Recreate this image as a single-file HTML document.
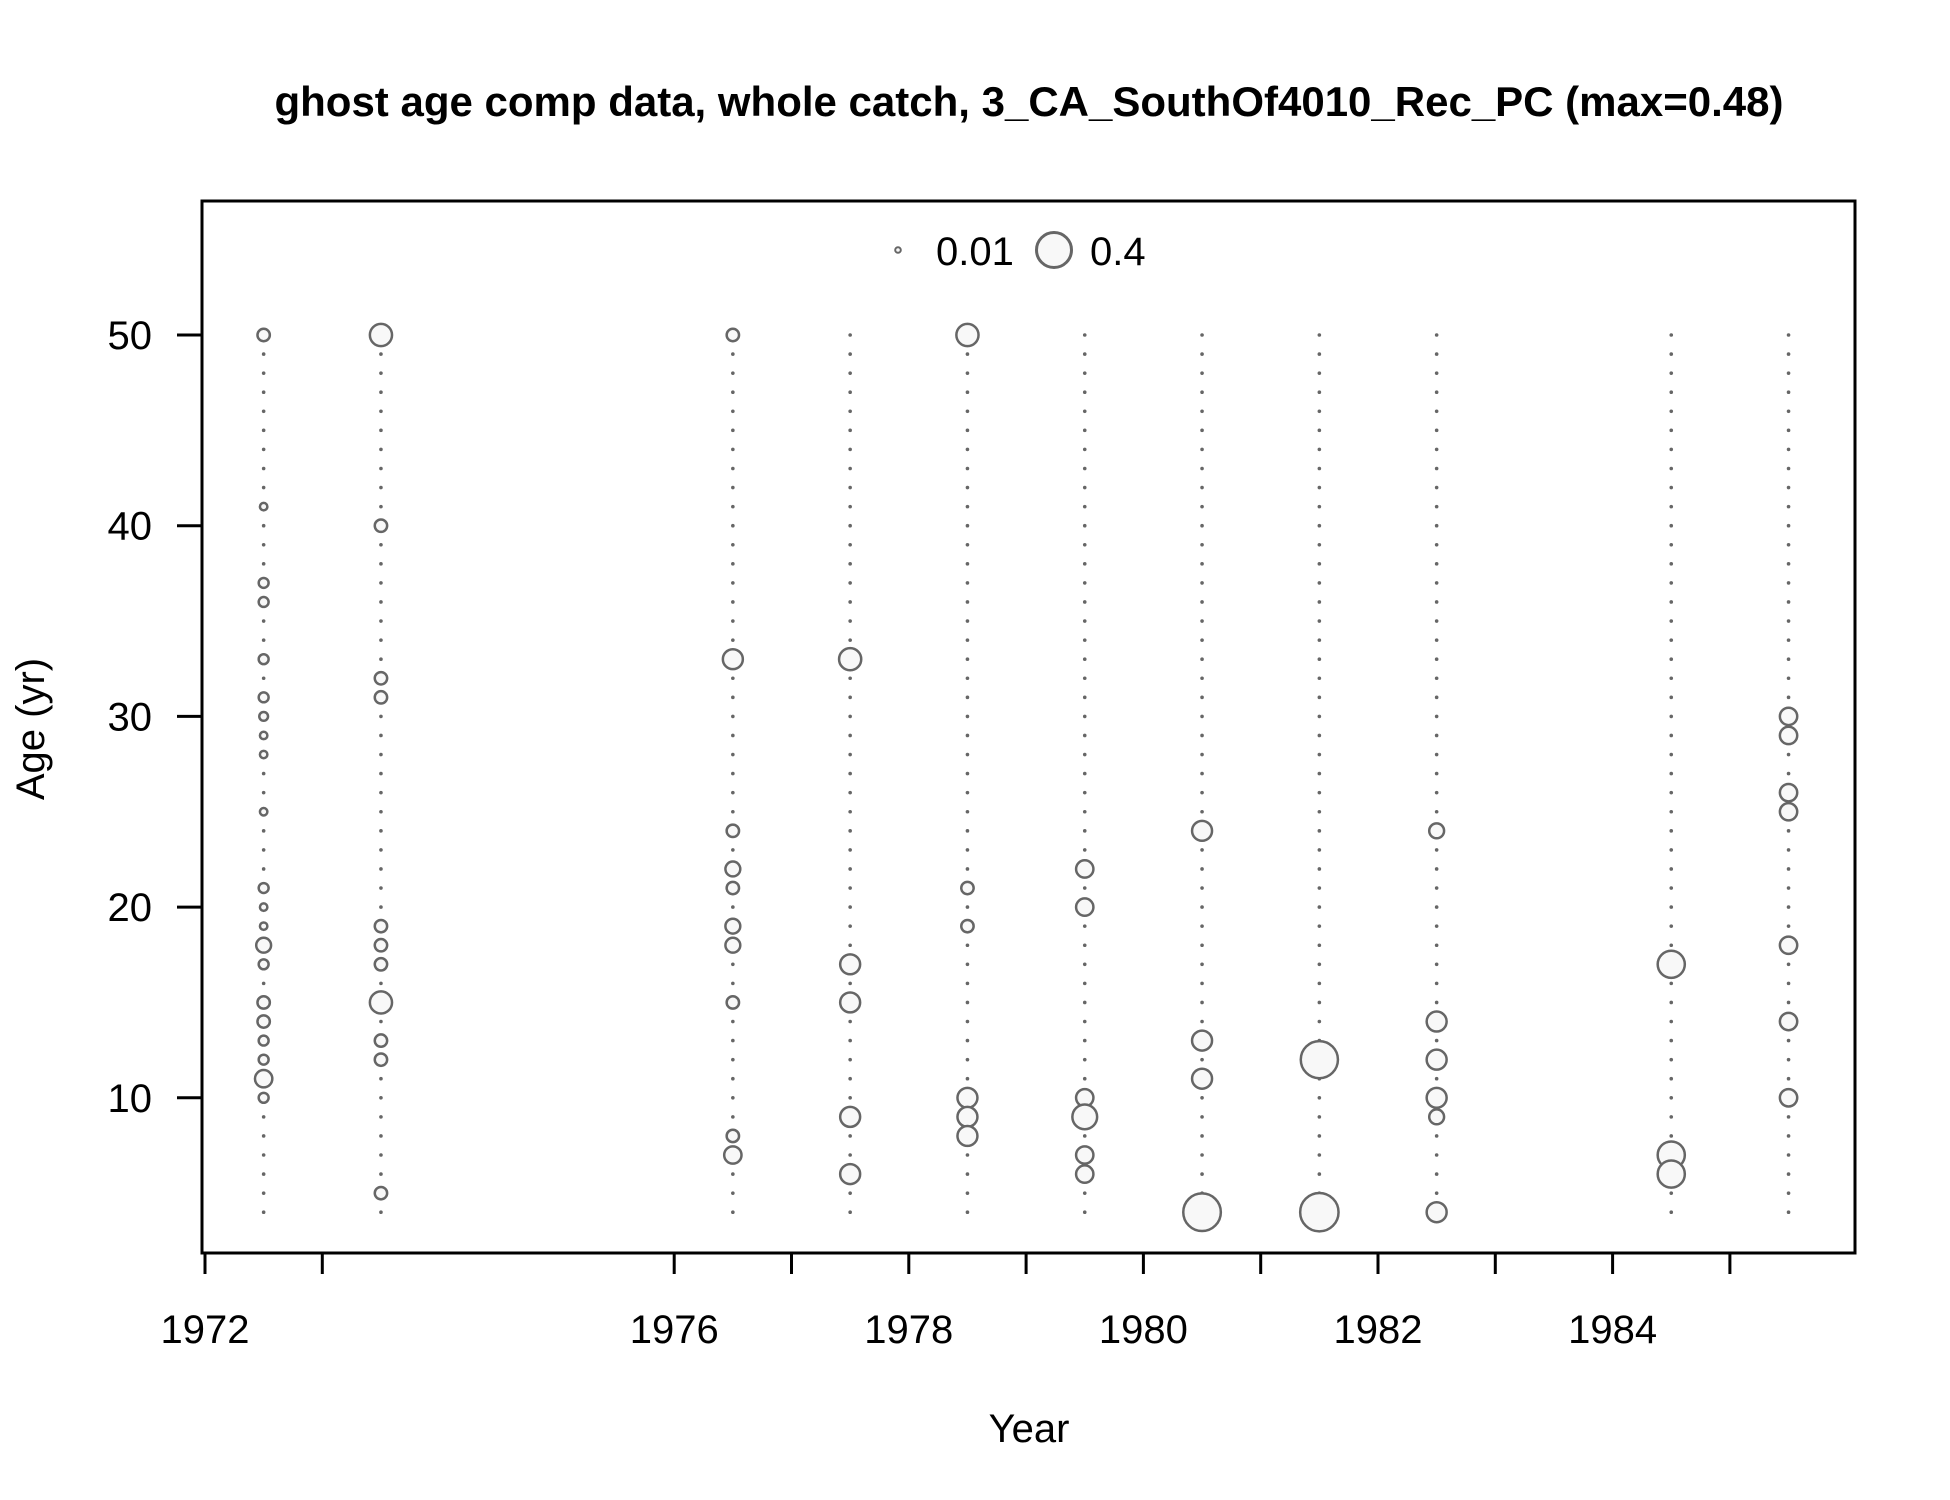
<!DOCTYPE html>
<html><head><meta charset="utf-8"><style>
body{margin:0;background:#fff}
svg{display:block;font-family:"Liberation Sans",Arial,sans-serif}
</style></head><body>
<svg id="chart" width="1950" height="1500" viewBox="0 0 1950 1500">
<text x="1029" y="116" font-size="42" font-weight="bold" text-anchor="middle">ghost age comp data, whole catch, 3_CA_SouthOf4010_Rec_PC (max=0.48)</text>
<rect x="202" y="201" width="1653" height="1052" fill="none" stroke="#000" stroke-width="3"/>
<g id="grid"></g>
<g id="marks"></g>
<g id="xaxis"></g>
<g id="yaxis"></g>
<text x="1029" y="1442" font-size="40" text-anchor="middle">Year</text>
<text transform="translate(44,729) rotate(-90)" font-size="40" text-anchor="middle">Age (yr)</text>
<g>
<circle cx="898" cy="250" r="2.8" fill="#f8f8f8" stroke="#666" stroke-width="2"/>
<text x="936" y="265" font-size="40">0.01</text>
<circle cx="1054" cy="250" r="17.5" fill="#f8f8f8" stroke="#666" stroke-width="3"/>
<text x="1090" y="265" font-size="40">0.4</text>
</g>
</svg>
<script>
const years = [1972.5,1973.5,1976.5,1977.5,1978.5,1979.5,1980.5,1981.5,1982.5,1984.5,1985.5];
const ages = [
 [50,41,37,36,33,31,30,29,28,25,21,20,19,18,17,15,14,13,12,11,10],
 [50,40,32,31,19,18,17,15,13,12,5],
 [50,33,24,22,21,19,18,15,8,7],
 [33,17,15,9,6],
 [50,21,19,10,9,8],
 [22,20,10,9,7,6],
 [24,13,11,4],
 [12,4],
 [24,14,12,10,9,4],
 [17,7,6],
 [30,29,26,25,18,14,10]
];
const props = [
 [0.05,0.018,0.032,0.032,0.032,0.032,0.025,0.018,0.018,0.018,0.032,0.018,0.018,0.072,0.032,0.05,0.05,0.032,0.032,0.098,0.032],
 [0.16,0.05,0.05,0.05,0.05,0.05,0.05,0.16,0.05,0.05,0.05],
 [0.05,0.13,0.05,0.072,0.05,0.072,0.072,0.05,0.05,0.098],
 [0.16,0.13,0.13,0.13,0.13],
 [0.16,0.05,0.05,0.13,0.13,0.13],
 [0.098,0.098,0.098,0.2,0.098,0.098],
 [0.13,0.13,0.13,0.46],
 [0.45,0.48],
 [0.072,0.13,0.13,0.13,0.072,0.13],
 [0.24,0.24,0.24],
 [0.098,0.098,0.098,0.098,0.098,0.098,0.098]
];
const xTicks = [1972,1973,1976,1977,1978,1979,1980,1981,1982,1983,1984,1985];
const xLabels = [1972,1976,1978,1980,1982,1984];
const yTicks = [10,20,30,40,50];
const NS="http://www.w3.org/2000/svg";
const X = y => 205 + (y-1972)*117.3;
const Y = a => 335 + (50-a)*19.07;
const R = v => 27.7*Math.sqrt(v);
function mk(t,attrs,parent){const e=document.createElementNS(NS,t);for(const k in attrs)e.setAttribute(k,attrs[k]);parent.appendChild(e);return e;}
const grid=document.getElementById('grid'), marks=document.getElementById('marks');
years.forEach((yr,i)=>{
  for(let a=4;a<=50;a++){
    if(ages[i].includes(a)) continue;
    const d=mk('circle',{cx:X(yr),cy:Y(a),r:1.8,fill:'#666'},grid);
    
    
  }
  ages[i].forEach((a,j)=>{
    const c=mk('circle',{cx:X(yr),cy:Y(a),r:R(props[i][j]),fill:'#f8f8f8',stroke:'#666','stroke-width':2.5},marks);
    
    
  });
});
const xa=document.getElementById('xaxis');
xTicks.forEach(t=>{
  const l=mk('line',{x1:X(t),x2:X(t),y1:1253,y2:1274,stroke:'#000','stroke-width':3},xa);
  
  
});
xLabels.forEach(t=>{
  const tx=mk('text',{x:X(t),y:1343,'font-size':40,'text-anchor':'middle'},xa);
  tx.textContent=t;
  
  
});
const ya=document.getElementById('yaxis');
yTicks.forEach(t=>{
  const l=mk('line',{x1:177,x2:202,y1:Y(t),y2:Y(t),stroke:'#000','stroke-width':3},ya);
  
  
  const tx=mk('text',{x:152,y:Y(t)+14,'font-size':40,'text-anchor':'end'},ya);
  tx.textContent=t;
  
  
});
</script>
</body></html>
